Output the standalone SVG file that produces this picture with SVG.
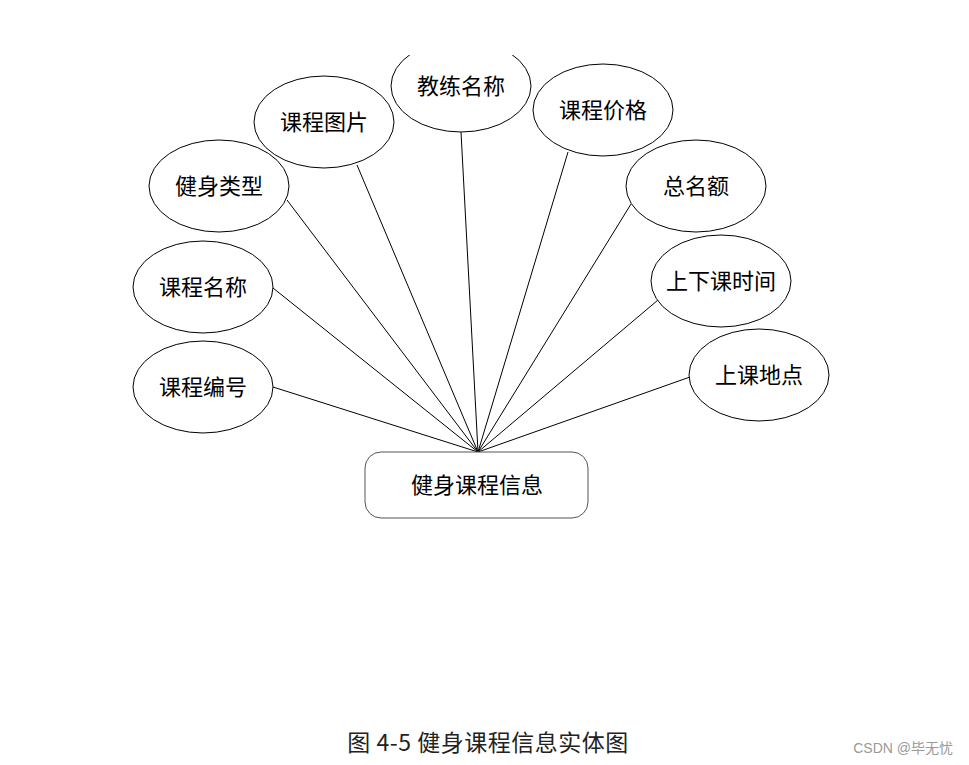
<svg xmlns="http://www.w3.org/2000/svg" width="969" height="765" viewBox="0 0 969 765">
<style>
.e{fill:#fff;stroke:#000;stroke-width:1}
.t{font-family:"Liberation Sans","Noto Sans CJK SC",sans-serif;font-size:22px;fill:#000;text-anchor:middle;dominant-baseline:central}
.c line{stroke:#000;stroke-width:1}
</style>
<defs><clipPath id="clip"><rect x="0" y="55" width="969" height="710"/></clipPath></defs>
<rect width="969" height="765" fill="#fff"/>
<g class="c" id="connectors">
<line x1="478" y1="452" x2="273" y2="387"/>
<line x1="478" y1="452" x2="273" y2="288"/>
<line x1="478" y1="452" x2="287" y2="200"/>
<line x1="478" y1="452" x2="357" y2="165"/>
<line x1="478" y1="452" x2="461" y2="132"/>
<line x1="478" y1="452" x2="568" y2="152"/>
<line x1="478" y1="452" x2="631" y2="204"/>
<line x1="478" y1="452" x2="658" y2="300"/>
<line x1="478" y1="452" x2="690" y2="377"/>
</g>
<g id="n1"><ellipse class="e" cx="203" cy="387" rx="70" ry="46"/><text class="t" x="203" y="387">课程编号</text></g>
<g id="n2"><ellipse class="e" cx="203" cy="287" rx="70" ry="46"/><text class="t" x="203" y="287">课程名称</text></g>
<g id="n3"><ellipse class="e" cx="219" cy="186" rx="70" ry="46"/><text class="t" x="219" y="186">健身类型</text></g>
<g id="n4"><ellipse class="e" cx="324" cy="122" rx="70" ry="46"/><text class="t" x="324" y="122">课程图片</text></g>
<g id="n5" clip-path="url(#clip)"><ellipse class="e" cx="461" cy="86" rx="70" ry="46"/><text class="t" x="461" y="86">教练名称</text></g>
<g id="n6"><ellipse class="e" cx="603" cy="110" rx="70" ry="46"/><text class="t" x="603" y="110">课程价格</text></g>
<g id="n7"><ellipse class="e" cx="696" cy="186" rx="70" ry="46"/><text class="t" x="696" y="186">总名额</text></g>
<g id="n8"><ellipse class="e" cx="721" cy="281" rx="70" ry="46"/><text class="t" x="721" y="281">上下课时间</text></g>
<g id="n9"><ellipse class="e" cx="759" cy="375" rx="70" ry="46"/><text class="t" x="759" y="375">上课地点</text></g>
<g id="entity"><rect x="365" y="452" width="223" height="66" rx="16" ry="16" fill="#fff" stroke="#555" stroke-width="1"/><text class="t" x="477" y="485">健身课程信息</text></g>
<text x="488" y="741" font-family="'Noto Sans CJK SC',sans-serif" font-size="23" letter-spacing="0.5" fill="#222" text-anchor="middle" dominant-baseline="central">图 4-5 健身课程信息实体图</text>
<text x="953" y="748" font-family="'Liberation Sans','Noto Sans CJK SC',sans-serif" font-size="14" fill="#999" text-anchor="end" dominant-baseline="central">CSDN @毕无忧</text>
</svg>
